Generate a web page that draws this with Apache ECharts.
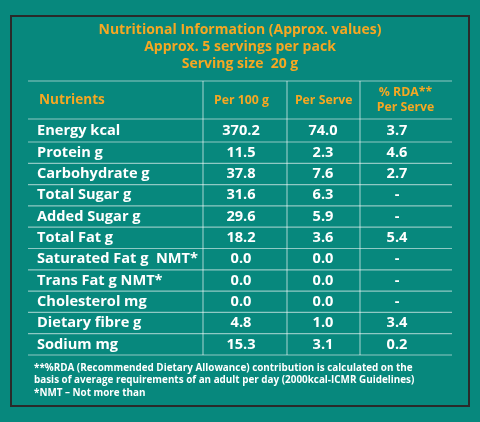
<!DOCTYPE html>
<html><head><meta charset="utf-8">
<script src="https://cdn.jsdelivr.net/npm/echarts@6/dist/echarts.min.js"></script>
<style>html,body{margin:0;padding:0;background:#07887d;}#c{width:480px;height:422px;}</style>
</head><body><div id="c"></div>
<script>
// ---- data ----
const titleLines = ['Nutritional Information (Approx. values)', 'Approx. 5 servings per pack', 'Serving size  20 g'];
const headers = ['Nutrients', 'Per 100 g', 'Per Serve', '% RDA**\nPer Serve'];
const nutrients = ['Energy kcal', 'Protein g', 'Carbohydrate g', 'Total Sugar g', 'Added Sugar g', 'Total Fat g',
  'Saturated Fat g  NMT*', 'Trans Fat g NMT*', 'Cholesterol mg', 'Dietary fibre g', 'Sodium mg'];
const per100g = [370.2, 11.5, 37.8, 31.6, 29.6, 18.2, 0.0, 0.0, 0.0, 4.8, 15.3];
const perServe = [74.0, 2.3, 7.6, 6.3, 5.9, 3.6, 0.0, 0.0, 0.0, 1.0, 3.1];
const rdaPerServe = [3.7, 4.6, 2.7, null, null, 5.4, null, null, null, 3.4, 0.2];
const footnotes = [
  '**%RDA (Recommended Dietary Allowance) contribution is calculated on the',
  'basis of average requirements of an adult per day (2000kcal-ICMR Guidelines)',
  '*NMT \u2013 Not more than'
];

// ---- layout (table units) ----
const COL_EDGES = [0, 175, 259, 332, 424];
const HEAD_X = [11, 213.5, 295.7, 377.5];
const BODY_X = [9, 213, 295, 369];
const ROW_H = [38, 23, 21.3, 21.3, 21.3, 21.3, 21.3, 21.3, 21.3, 21.3, 21.3, 21.3];
const rowEdges = [0];
ROW_H.forEach(h => rowEdges.push(rowEdges[rowEdges.length - 1] + h));
const TOTAL_H = rowEdges[rowEdges.length - 1];
const rowCenter = i => (rowEdges[i] + rowEdges[i + 1]) / 2;

const ORANGE = '#f6a722';
const WHITE = '#ffffff';
const LINE = 'rgba(255,255,255,0.55)';
const FONT = '"Open Sans"';
const fmt = v => v == null ? '-' : v.toFixed(1);

// cells: [x, y, text, kind]
const cells = [];
headers.forEach((h, c) => cells.push([HEAD_X[c], rowCenter(0), h, c === 0 ? 'hl' : 'hc']));
nutrients.forEach((n, r) => {
  const y = rowCenter(r + 1);
  cells.push([BODY_X[0], y, n, 'bl']);
  cells.push([BODY_X[1], y, fmt(per100g[r]), 'bc']);
  cells.push([BODY_X[2], y, fmt(perServe[r]), 'bc']);
  cells.push([BODY_X[3], y, fmt(rdaPerServe[r]), 'bc']);
});

// lines: [x1,y1,x2,y2]
const lines = [];
rowEdges.forEach(y => lines.push([COL_EDGES[0], y, COL_EDGES[4], y]));
COL_EDGES.slice(1, 4).forEach(x => lines.push([x, 0, x, TOTAL_H]));

const titleTops = [21.5, 38.5, 55.5];
const chart = echarts.init(document.getElementById('c'), null, {renderer: 'canvas'});
chart.setOption({
  backgroundColor: '#07887d',
  animation: false,
  title: titleLines.map((t, i) => ({
    text: t, left: 'center', top: titleTops[i], padding: 0,
    textStyle: {color: ORANGE, fontFamily: FONT, fontWeight: 'bold', fontSize: 14, lineHeight: 17}
  })).concat([{
    text: footnotes.join('\n'),
    left: 34, top: 361.5, padding: 0,
    textStyle: {color: WHITE, fontFamily: FONT, fontWeight: 'bold', fontSize: 9.9, lineHeight: 12.6}
  }]),
  graphic: [{
    type: 'rect', shape: {x: 11, y: 16, width: 458, height: 390},
    style: {fill: 'none', stroke: '#2a2a2a', lineWidth: 2}, silent: true
  }],
  grid: {left: 28, right: 28, top: 81, bottom: 422 - 81 - TOTAL_H},
  xAxis: {type: 'value', min: 0, max: COL_EDGES[4], show: false},
  yAxis: {type: 'value', min: 0, max: TOTAL_H, inverse: true, show: false},
  series: [{
    type: 'custom',
    data: lines,
    silent: true,
    renderItem: (params, api) => {
      const p1 = api.coord([api.value(0), api.value(1)]);
      const p2 = api.coord([api.value(2), api.value(3)]);
      return {type: 'line', shape: {x1: p1[0], y1: p1[1], x2: p2[0], y2: p2[1]},
        style: {stroke: LINE, lineWidth: 1.2}};
    }
  }, {
    type: 'custom',
    data: cells,
    silent: true,
    renderItem: (params, api) => {
      const d = cells[params.dataIndex];
      const p = api.coord([d[0], d[1]]);
      const head = d[3][0] === 'h';
      const left = d[3][1] === 'l';
      return {type: 'text', x: p[0], y: p[1], style: {
        text: d[2], fill: head ? ORANGE : WHITE,
        font: 'bold ' + (head ? (left ? 13.6 : 12.3) : 14.6) + 'px ' + FONT,
        textAlign: left ? 'left' : 'center', textVerticalAlign: 'middle',
        lineHeight: 15
      }};
    }
  }]
});
</script></body></html>
